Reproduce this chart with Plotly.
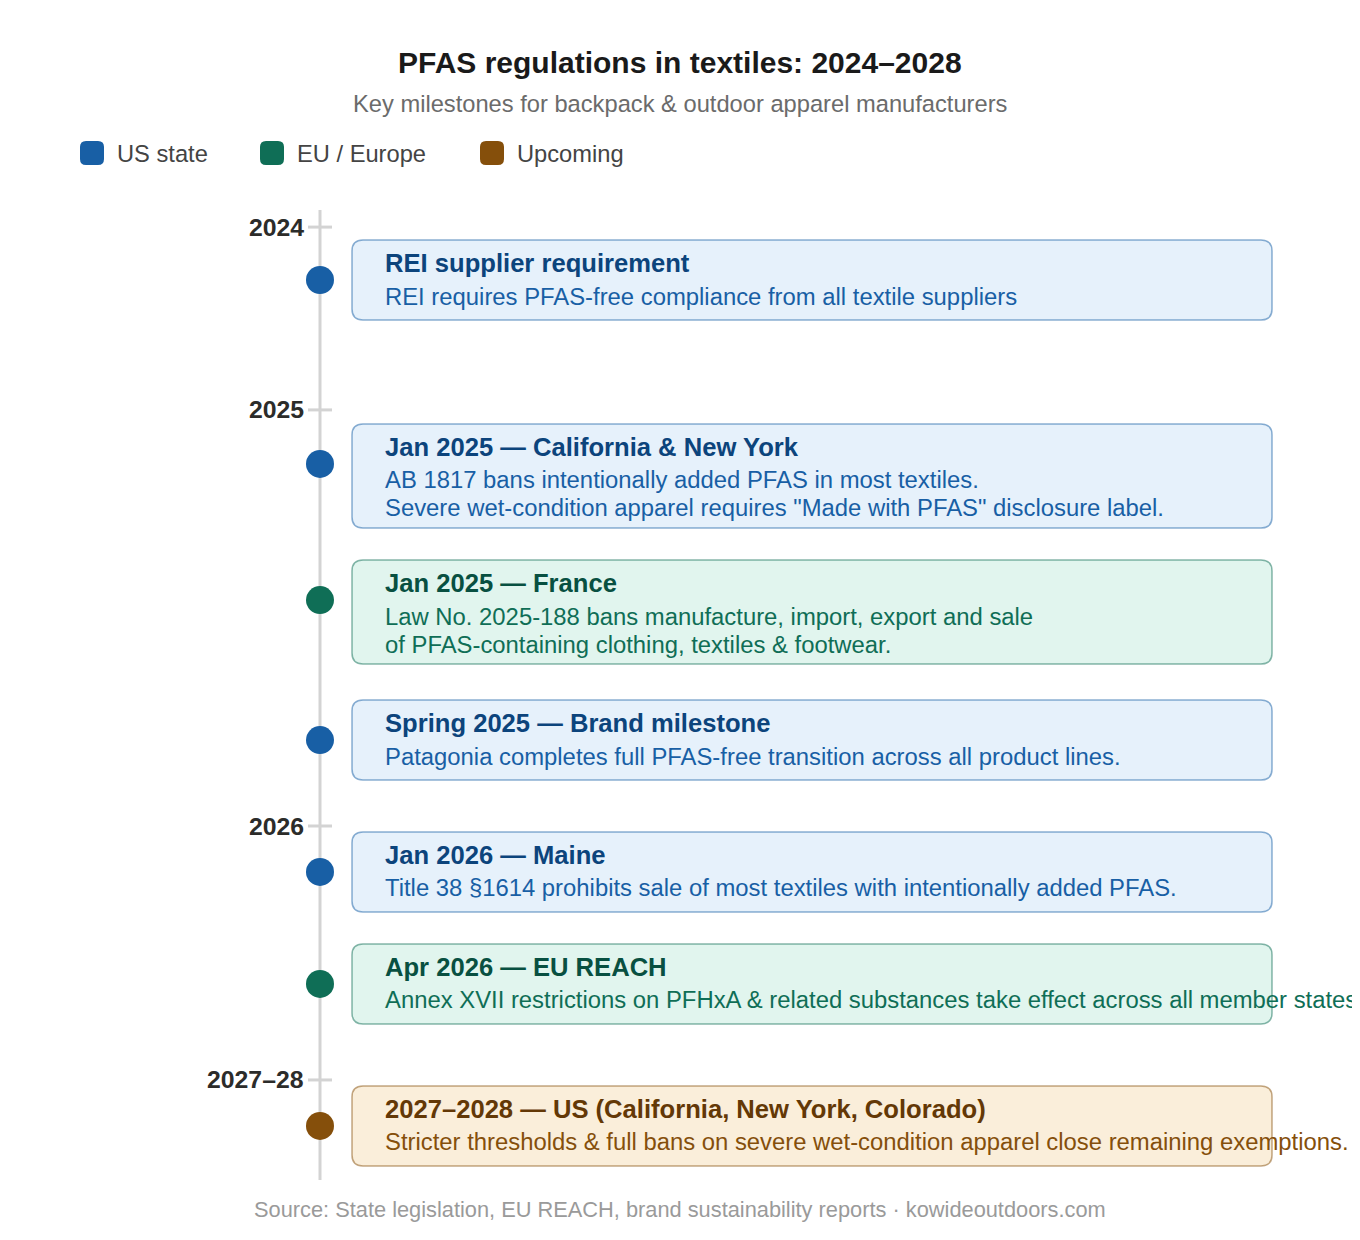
import plotly.graph_objects as go

# ---------------------------------------------------------------
# data
# ---------------------------------------------------------------
legend_labels = ["US state", "EU / Europe", "Upcoming"]

event_category = ["US state", "US state", "EU / Europe", "US state",
                  "US state", "EU / Europe", "Upcoming"]

event_titles = [
    "REI supplier requirement",
    "Jan 2025 — California & New York",
    "Jan 2025 — France",
    "Spring 2025 — Brand milestone",
    "Jan 2026 — Maine",
    "Apr 2026 — EU REACH",
    "2027–2028 — US (California, New York, Colorado)",
]

event_text = [
    ["REI requires PFAS-free compliance from all textile suppliers"],
    ["AB 1817 bans intentionally added PFAS in most textiles.",
     'Severe wet-condition apparel requires "Made with PFAS" disclosure label.'],
    ["Law No. 2025-188 bans manufacture, import, export and sale",
     "of PFAS-containing clothing, textiles & footwear."],
    ["Patagonia completes full PFAS-free transition across all product lines."],
    ["Title 38 §1614 prohibits sale of most textiles with intentionally added PFAS."],
    ["Annex XVII restrictions on PFHxA & related substances take effect across all member states."],
    ["Stricter thresholds & full bans on severe wet-condition apparel close remaining exemptions."],
]

# position of each milestone along the timeline (timeline units)
event_pos = [2.5, 9.07, 13.93, 18.93, 23.64, 27.64, 32.71]

year_labels = ["2024", "2025", "2026", "2027–28"]
year_pos = [0.61, 7.14, 22.0, 31.07]

# ---------------------------------------------------------------
# styling
# ---------------------------------------------------------------
W, H = 1360, 1240
OFF = 8           # page body margin, the figure starts 8px in
ROW = 28          # px per timeline unit
TOP_PX = 210 - OFF  # figure pixel row of timeline position 0
FONT = "Liberation Sans, Arial, sans-serif"

dot_color = {"US state": "#185FA5", "EU / Europe": "#0F6E56", "Upcoming": "#854F0B"}
border_color = {"US state": "rgba(24,95,165,0.5)", "EU / Europe": "rgba(15,110,86,0.5)",
                "Upcoming": "rgba(133,79,11,0.5)"}
fill_color = {"US state": "#E6F1FB", "EU / Europe": "#E1F5EE", "Upcoming": "#FAEEDA"}
head_color = {"US state": "#0C447C", "EU / Europe": "#085041", "Upcoming": "#633806"}

LINE_X = 320 - OFF
BOX_X0, BOX_X1 = 352 - OFF, 1272 - OFF
TEXT_X = 383 - OFF
LINE_COLOR = "#d3d3d3"


def u(px):
    # pixels -> timeline units
    return px / ROW


def px_x(px):
    # page pixel -> paper x
    return (px - OFF) / W


def px_y(py):
    # page pixel -> paper y
    return 1 - (py - OFF) / H


def rounded_box(x0, x1, y0, y1, r_px):
    rx, ry = r_px, u(r_px)
    return (f"M {x0+rx},{y0} L {x1-rx},{y0} Q {x1},{y0} {x1},{y0+ry} "
            f"L {x1},{y1-ry} Q {x1},{y1} {x1-rx},{y1} L {x0+rx},{y1} "
            f"Q {x0},{y1} {x0},{y1-ry} L {x0},{y0+ry} Q {x0},{y0} {x0+rx},{y0} Z")


def paper_box(px0, py0, px1, py1, r):
    x0, x1 = px_x(px0), px_x(px1)
    y0, y1 = px_y(py0), px_y(py1)
    rx, ry = r / W, r / H
    return (f"M {x0+rx},{y0} L {x1-rx},{y0} Q {x1},{y0} {x1},{y0-ry} "
            f"L {x1},{y1+ry} Q {x1},{y1} {x1-rx},{y1} L {x0+rx},{y1} "
            f"Q {x0},{y1} {x0},{y1+ry} L {x0},{y0-ry} Q {x0},{y0} {x0+rx},{y0} Z")


fig = go.Figure()
shapes = []
annotations = []

box_tops = [p - u(40) for p in event_pos]
box_bottoms = [t + u(56 + 24 * len(lines)) for t, lines in zip(box_tops, event_text)]

# timeline spine
line_top = year_pos[0] - u(17)
line_bottom = box_bottoms[-1] + u(14)
fig.add_trace(go.Scatter(x=[LINE_X, LINE_X], y=[line_top, line_bottom], mode="lines",
                         line=dict(color=LINE_COLOR, width=3), hoverinfo="skip",
                         showlegend=False))

# year ticks
fig.add_trace(go.Scatter(x=[LINE_X] * len(year_pos), y=year_pos, mode="markers",
                         marker=dict(symbol="line-ew", size=24 / 1.4,
                                     line=dict(color=LINE_COLOR, width=3)),
                         hoverinfo="skip", showlegend=False))
for lab, yp in zip(year_labels, year_pos):
    annotations.append(dict(x=LINE_X - 14, y=yp, xref="x", yref="y", text=f"<b>{lab}</b>",
                            showarrow=False, xanchor="right", yanchor="middle",
                            font=dict(family=FONT, size=24.8, color="#2c2c2a")))

# milestone dots
for cat in legend_labels:
    ys = [p for p, c in zip(event_pos, event_category) if c == cat]
    fig.add_trace(go.Scatter(x=[LINE_X] * len(ys), y=ys, mode="markers", name=cat,
                             marker=dict(size=28, color=dot_color[cat]),
                             hoverinfo="skip", showlegend=False))

# milestone cards
for cat, title, lines, top, bot in zip(event_category, event_titles, event_text,
                                       box_tops, box_bottoms):
    shapes.append(dict(type="path", xref="x", yref="y",
                       path=rounded_box(BOX_X0, BOX_X1, top, bot, 11),
                       fillcolor=fill_color[cat],
                       line=dict(color=border_color[cat], width=1.5), layer="below"))
    annotations.append(dict(x=TEXT_X, y=top + u(23), xref="x", yref="y",
                            text=f"<b>{title}</b>", showarrow=False,
                            xanchor="left", yanchor="middle",
                            font=dict(family=FONT, size=25.6, color=head_color[cat])))
    for k, line in enumerate(lines):
        annotations.append(dict(x=TEXT_X, y=top + u(56 + 28 * k), xref="x", yref="y",
                                text=line, showarrow=False,
                                xanchor="left", yanchor="middle",
                                font=dict(family=FONT, size=23.85, color=dot_color[cat])))

# header
annotations.append(dict(x=px_x(680), y=px_y(62), xref="paper", yref="paper",
                        text="<b>PFAS regulations in textiles: 2024–2028</b>",
                        showarrow=False, xanchor="center", yanchor="middle",
                        font=dict(family=FONT, size=30, color="#1a1a1a")))
annotations.append(dict(x=px_x(680), y=px_y(104), xref="paper", yref="paper",
                        text="Key milestones for backpack & outdoor apparel manufacturers",
                        showarrow=False, xanchor="center", yanchor="middle",
                        font=dict(family=FONT, size=23.7, color="#6b6b6b")))

# legend
legend_x = [80, 260, 480]
for lab, lx in zip(legend_labels, legend_x):
    shapes.append(dict(type="path", xref="paper", yref="paper",
                       path=paper_box(lx, 141, lx + 24, 165, 6),
                       fillcolor=dot_color[lab], line=dict(width=0)))
    annotations.append(dict(x=px_x(lx + 35), y=px_y(154), xref="paper", yref="paper",
                            text=lab, showarrow=False, xanchor="left", yanchor="middle",
                            font=dict(family=FONT, size=23.7, color="#444444")))

# source
annotations.append(dict(x=px_x(680), y=px_y(1209), xref="paper", yref="paper",
                        text="Source: State legislation, EU REACH, brand sustainability reports · kowideoutdoors.com",
                        showarrow=False, xanchor="center", yanchor="middle",
                        font=dict(family=FONT, size=21.8, color="#9a9a9a")))

fig.update_layout(
    width=W, height=H, autosize=False,
    margin=dict(l=0, r=0, t=0, b=0),
    paper_bgcolor="white", plot_bgcolor="white",
    xaxis=dict(range=[0, W], visible=False, fixedrange=True),
    yaxis=dict(range=[u(H - TOP_PX), u(-TOP_PX)], visible=False, fixedrange=True),
    shapes=shapes, annotations=annotations,
    showlegend=False,
    font=dict(family=FONT),
)

fig.write_html("out.html")
